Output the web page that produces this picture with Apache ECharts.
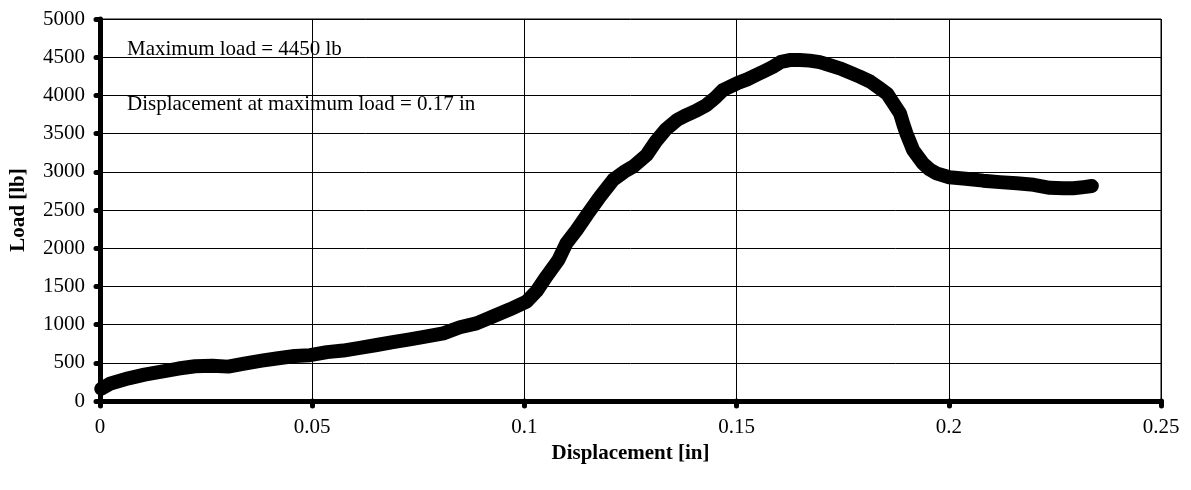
<!DOCTYPE html>
<html>
<head>
<meta charset="utf-8">
<script src="https://cdn.jsdelivr.net/npm/echarts@6/dist/echarts.min.js"></script>
<style>
html,body{margin:0;padding:0;background:#fff;}
#chart{width:1191px;height:490px;}
</style>
</head>
<body>
<div id="chart"></div>
<script>
const displacement = [0.0003,0.0025,0.0067,0.0105,0.0145,0.0185,0.0224,0.0265,0.0302,0.0340,0.0381,0.0420,0.0459,0.0495,0.0535,0.0573,0.0612,0.0652,0.0690,0.0730,0.0770,0.0809,0.0848,0.0887,0.0927,0.0966,0.1005,0.1029,0.1052,0.1080,0.1099,0.1123,0.1150,0.1178,0.1209,0.1235,0.1256,0.1288,0.1310,0.1334,0.1360,0.1382,0.1405,0.1429,0.1450,0.1468,0.1501,0.1525,0.1546,0.1566,0.1586,0.1605,0.1625,0.1649,0.1672,0.1696,0.1720,0.1743,0.1767,0.1790,0.1815,0.1837,0.1855,0.1869,0.1885,0.1893,0.1900,0.1916,0.1939,0.1955,0.1971,0.2001,0.2040,0.2081,0.2120,0.2160,0.2200,0.2238,0.2270,0.2293,0.2318,0.2337];
const load = [160,230,297,345,384,425,455,462,450,490,528,560,589,600,640,660,695,733,770,807,845,886,965,1016,1110,1200,1300,1440,1630,1846,2064,2238,2456,2674,2893,3000,3067,3220,3400,3560,3680,3743,3800,3874,3970,4071,4158,4210,4267,4320,4376,4440,4463,4463,4455,4435,4395,4354,4300,4245,4180,4093,4020,3900,3766,3620,3504,3285,3111,3030,2980,2928,2910,2884,2865,2849,2830,2790,2785,2784,2800,2814];
const annotations = ["Maximum load = 4450 lb", "Displacement at maximum load = 0.17 in"];
const xTitle = "Displacement [in]";
const yTitle = "Load [lb]";

const font = "'Liberation Serif', 'Times New Roman', serif";
const chart = echarts.init(document.getElementById('chart'), null, {renderer:'canvas'});
chart.setOption({
  animation:false,
  backgroundColor:'#fff',
  grid:{left:100, right:30, top:19, bottom:89, containLabel:false, outerBoundsMode:'none',
    show:true, borderColor:'#000', borderWidth:1},
  xAxis:{
    type:'value', min:0, max:0.25, interval:0.05,
    name:xTitle, nameLocation:'middle', nameGap:34,
    nameTextStyle:{fontFamily:font, fontWeight:'bold', fontSize:21, color:'#000'},
    axisLine:{show:true, onZero:false, lineStyle:{color:'#000', width:5}},
    axisTick:{show:true, length:5, lineStyle:{color:'#000', width:5, cap:'round'}},
    axisLabel:{fontFamily:font, fontSize:21, color:'#000', margin:16,
      formatter:v=>String(Math.round(v*100)/100)},
    splitLine:{show:true, lineStyle:{color:'#000', width:1}}
  },
  yAxis:{
    type:'value', min:0, max:5000, interval:500,
    name:yTitle, nameLocation:'middle', nameGap:71, nameRotate:90,
    nameTextStyle:{fontFamily:font, fontWeight:'bold', fontSize:21, color:'#000'},
    axisLine:{show:true, onZero:false, lineStyle:{color:'#000', width:5}},
    axisTick:{show:true, length:4, lineStyle:{color:'#000', width:5, cap:'round'}},
    axisLabel:{fontFamily:font, fontSize:21, color:'#000', margin:15, formatter:v=>String(v)},
    splitLine:{show:true, lineStyle:{color:'#000', width:1}}
  },
  graphic:[
    {type:'text', x:127, y:49.6, style:{text:annotations[0], font:"21px 'Liberation Serif'", fill:'#000', verticalAlign:'middle'}},
    {type:'text', x:127, y:104.6, style:{text:annotations[1], font:"21px 'Liberation Serif'", fill:'#000', verticalAlign:'middle'}}
  ],
  series:[{
    type:'line', clip:false, symbol:'none', smooth:false,
    data:displacement.map((d,i)=>[d, load[i]]),
    lineStyle:{color:'#000', width:14, cap:'round', join:'round'}
  }]
});
</script>
</body>
</html>
